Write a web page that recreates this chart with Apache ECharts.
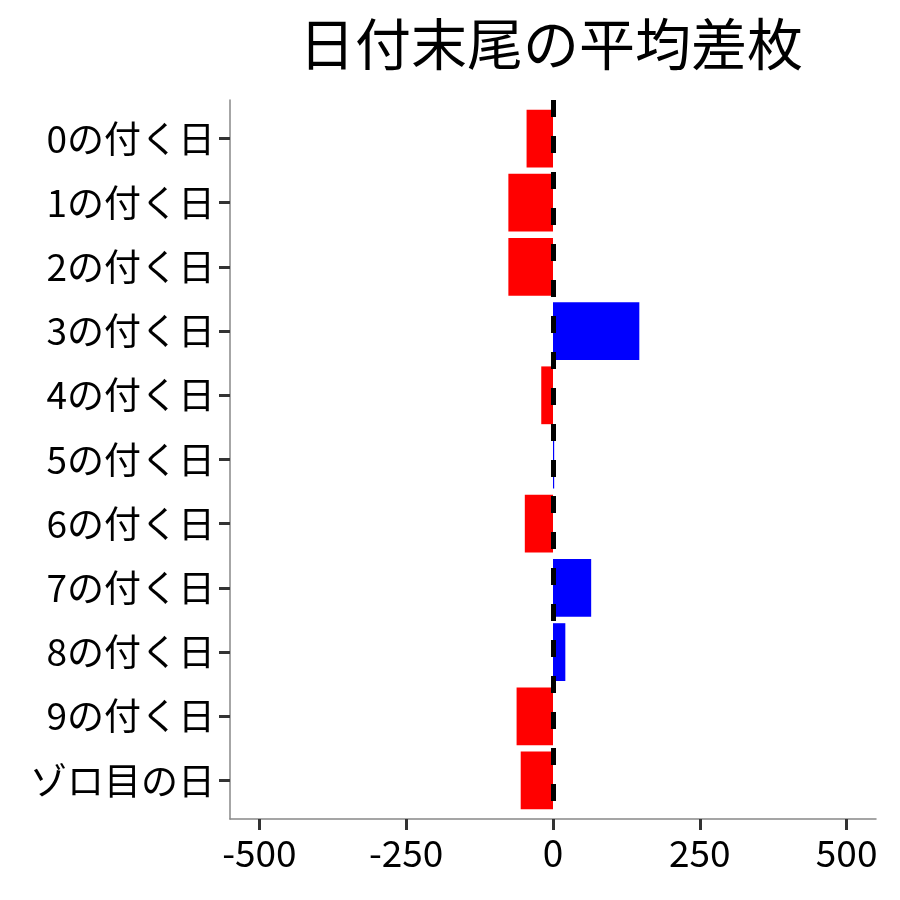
<!DOCTYPE html>
<html>
<head>
<meta charset="utf-8">
<script src="https://cdn.jsdelivr.net/npm/echarts@6/dist/echarts.min.js"></script>
<style>html,body{margin:0;padding:0;background:#fff}#c{width:900px;height:900px}</style>
</head>
<body>
<div id="c"></div>
<script>
const titleText = '日付末尾の平均差枚';
const categories = ['0の付く日','1の付く日','2の付く日','3の付く日','4の付く日','5の付く日','6の付く日','7の付く日','8の付く日','9の付く日','ゾロ目の日'];
const values = [-45, -76, -76, 147, -20, 2, -48, 65, 21, -62, -55];
const xTicks = [-500, -250, 0, 250, 500];

const FONT = 'Noto Sans CJK JP';
const catPos = categories.map((c, i) => i + 1);
const data = values.map((v, i) => [v, i + 1]);

const chart = echarts.init(document.getElementById('c'), null, {renderer: 'canvas'});
chart.setOption({
  animation: false,
  backgroundColor: '#fff',
  title: {
    text: titleText,
    left: 546,
    top: 11,
    textAlign: 'center',
    textStyle: {fontFamily: FONT, fontSize: 56, fontWeight: 'normal', color: '#000'}
  },
  grid: {left: 230, right: 24, top: 100, bottom: 81, containLabel: false},
  xAxis: {
    type: 'value',
    min: -550,
    max: 550,
    axisLine: {show: true, onZero: false, lineStyle: {color: '#888', width: 1.5}},
    axisTick: {show: true, customValues: xTicks, length: 11, lineStyle: {color: '#333', width: 3}},
    axisLabel: {customValues: xTicks, fontFamily: FONT, fontSize: 37, color: '#000', margin: 15},
    splitLine: {show: false}
  },
  yAxis: {
    type: 'value',
    min: 0.4,
    max: 11.6,
    inverse: true,
    axisLine: {show: true, onZero: false, lineStyle: {color: '#888', width: 1.5}},
    axisTick: {show: true, customValues: catPos, length: 11, lineStyle: {color: '#333', width: 3}},
    axisLabel: {
      customValues: catPos,
      formatter: (v) => categories[Math.round(v) - 1] || '',
      fontFamily: FONT, fontSize: 37, color: '#000', margin: 15
    },
    splitLine: {show: false}
  },
  series: [{
    type: 'custom',
    data: data,
    renderItem: function (params, api) {
      const v = api.value(0), i = api.value(1);
      const p0 = api.coord([0, i]);
      const p1 = api.coord([v, i]);
      const h = api.size([0, 0.9])[1];
      return {
        type: 'rect',
        shape: {x: Math.min(p0[0], p1[0]), y: p0[1] - h / 2, width: Math.abs(p1[0] - p0[0]), height: h},
        style: {fill: v < 0 ? '#FF0000' : '#0000FF'}
      };
    },
    encode: {x: 0, y: 1},
    markLine: {
      silent: true,
      symbol: ['none', 'none'],
      label: {show: false},
      lineStyle: {color: '#000', width: 5, type: [17, 19], dashOffset: 0},
      data: [{xAxis: 0}]
    }
  }]
});
</script>
</body>
</html>
